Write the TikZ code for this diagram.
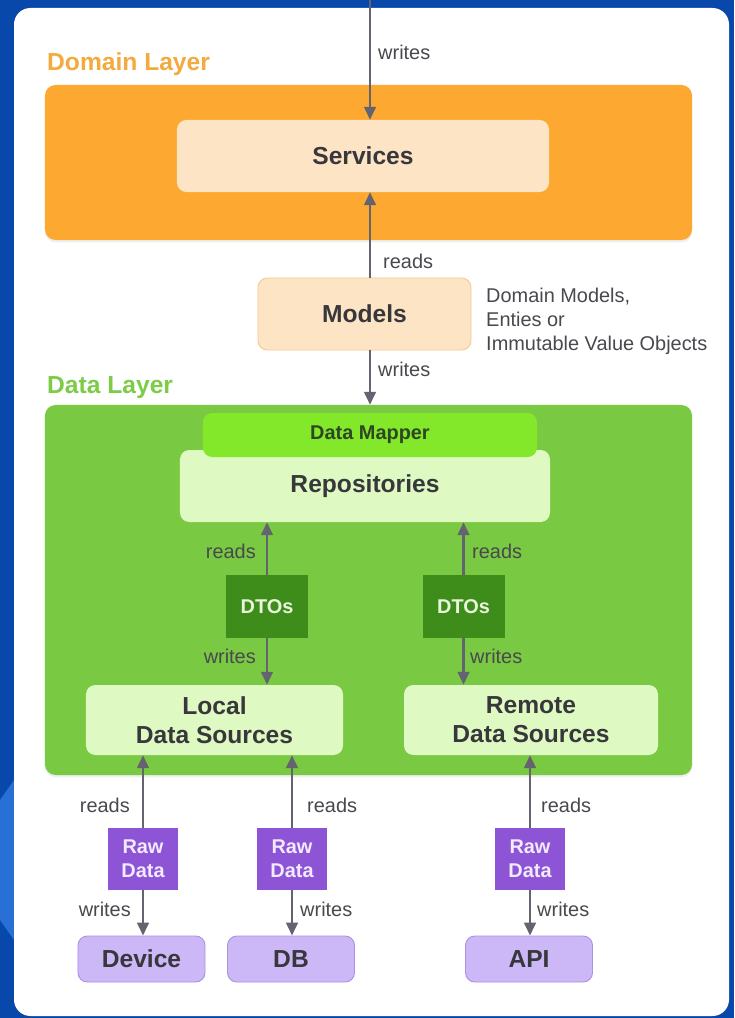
\documentclass[tikz,border=0pt]{standalone}
\usepackage{fontspec}
\setmainfont{Liberation Sans}
\usetikzlibrary{positioning,calc,arrows.meta,shadows}

\definecolor{bgblue}{RGB}{8,72,170}
\definecolor{bgblue2}{RGB}{40,112,214}
\definecolor{domorange}{RGB}{253,168,48}
\definecolor{domtitle}{RGB}{243,170,62}
\definecolor{peach}{RGB}{253,228,196}
\definecolor{peachline}{RGB}{244,204,150}
\definecolor{datagreen}{RGB}{122,201,67}
\definecolor{datatitle}{RGB}{124,204,72}
\definecolor{mapgreen}{RGB}{132,232,42}
\definecolor{palegreen}{RGB}{222,250,194}
\definecolor{dtogreen}{RGB}{62,140,26}
\definecolor{rawpurple}{RGB}{142,84,214}
\definecolor{lavender}{RGB}{204,184,246}
\definecolor{lavline}{RGB}{172,146,228}
\definecolor{txt}{RGB}{55,55,60}
\definecolor{lblgray}{RGB}{72,72,78}
\definecolor{arrgray}{RGB}{100,100,112}

\tikzset{
  layer/.style={fill=#1, rounded corners=9pt, inner sep=0pt,
    drop shadow={opacity=0.12, shadow xshift=0pt, shadow yshift=-2pt}},
  box/.style={fill=#1, rounded corners=8pt, text=txt, align=center,
    font=\fontsize{21}{25}\selectfont\bfseries, inner sep=0pt},
  tag/.style={fill=#1, align=center, inner sep=0pt,
    font=\fontsize{17}{20.5}\selectfont\bfseries},
  lbl/.style={text=lblgray, font=\fontsize{17}{20}\selectfont, inner sep=0pt},
  title/.style={font=\fontsize{21}{25}\selectfont\bfseries, inner sep=0pt, anchor=west},
  arr/.style={draw=arrgray, line width=1.8pt, -{Triangle[length=11pt,width=10pt]}}
}

\begin{document}
\begin{tikzpicture}[x=0.03cm, y=-0.03cm]
    \useasboundingbox (0,0) rectangle (734,1018);

    % Background
    \fill[bgblue] (0,0) rectangle (734,1018);
    \fill[bgblue2] (0,800) -- (14,780) -- (14,940) -- (0,920) -- cycle;
    \fill[white, rounded corners=14pt] (14,8) rectangle (729,1016);

    % Domain layer
    \node[title, text=domtitle] (domtitle) at (47,64) {Domain Layer};
    \node[layer=domorange, minimum width=19.41cm, minimum height=4.65cm] (domain) at (368.5,162.5) {};
    \node[box=peach, minimum width=11.16cm, minimum height=2.16cm] (services) at (363,156) {Services};

    % Models
    \node[box=peach, draw=peachline, line width=0.8pt, minimum width=6.39cm, minimum height=2.16cm] (models) at (364.5,314) {Models};
    \node[lbl, anchor=north west, align=left, font=\fontsize{17}{20.5}\selectfont] (modelnote) at (486,288)
        {Domain Models,\\Enties or\\Immutable Value Objects};

    % Data layer
    \node[title, text=datatitle] (datatitle) at (47,388) {Data Layer};
    \node[layer=datagreen, minimum width=19.41cm, minimum height=11.1cm] (data) at (368.5,590) {};
    \node[box=palegreen, minimum width=11.1cm, minimum height=2.16cm] (repo) at (365,486) {Repositories};
    \node[tag=mapgreen, text={rgb,255:red,45;green,70;blue,35}, rounded corners=8pt,
        minimum width=10.02cm, minimum height=1.32cm] (mapper) at (370,435) {Data Mapper};

    % DTOs
    \node[tag=dtogreen, text={rgb,255:red,232;green,246;blue,222}, minimum width=2.46cm, minimum height=1.89cm] (dtoL) at (267,606.5) {DTOs};
    \node[tag=dtogreen, text={rgb,255:red,232;green,246;blue,222}, minimum width=2.46cm, minimum height=1.89cm] (dtoR) at (463.5,606.5) {DTOs};

    % Data sources
    \node[box=palegreen, minimum width=7.71cm, minimum height=2.1cm] (local) at (214.5,720) {Local\\Data Sources};
    \node[box=palegreen, minimum width=7.62cm, minimum height=2.1cm] (remote) at (531,720) {Remote\\Data Sources};

    % Raw data
    \foreach \n/\x in {rawL/143, rawM/292, rawR/530}
      \node[tag=rawpurple, text={rgb,255:red,242;green,234;blue,255}, minimum width=2.1cm, minimum height=1.86cm] (\n) at (\x,859) {Raw\\Data};

    % Sinks
    \node[box=lavender, draw=lavline, line width=0.8pt, minimum width=3.81cm, minimum height=1.38cm] (device) at (141.5,959) {Device};
    \node[box=lavender, draw=lavline, line width=0.8pt, minimum width=3.81cm, minimum height=1.38cm] (db) at (291,959) {DB};
    \node[box=lavender, draw=lavline, line width=0.8pt, minimum width=3.81cm, minimum height=1.38cm] (api) at (529,959) {API};

    % Arrows
    \coordinate (top) at (370,0);
    \draw[arr] (top) -- (top |- services.north);
    \draw[arr] (top |- models.north) -- (top |- services.south);
    \draw[arr] (top |- models.south) -- (top |- data.north);

    \draw[arr] (dtoL.north) -- (dtoL.north |- repo.south);
    \draw[arr] (dtoL.south) -- (dtoL.south |- local.north);
    \draw[arr] (dtoR.north) -- (dtoR.north |- repo.south);
    \draw[arr] (dtoR.south) -- (dtoR.south |- remote.north);

    \draw[arr] (rawL.north) -- (rawL.north |- local.south);
    \draw[arr] (rawM.north) -- (rawM.north |- local.south);
    \draw[arr] (rawR.north) -- (rawR.north |- remote.south);
    \draw[arr] (rawL.south) -- (rawL.south |- device.north);
    \draw[arr] (rawM.south) -- (rawM.south |- db.north);
    \draw[arr] (rawR.south) -- (rawR.south |- api.north);

    % Labels
    \node[lbl, anchor=west] (w1) at (378,52) {writes};
    \node[lbl, anchor=west] (r1) at (383,261) {reads};
    \node[lbl, anchor=west] (w2) at (378,369) {writes};
    \node[lbl, anchor=east] (r2) at (256,551) {reads};
    \node[lbl, anchor=east] (w3) at (256,656) {writes};
    \node[lbl, anchor=west] (r3) at (472,551) {reads};
    \node[lbl, anchor=west] (w4) at (470,656) {writes};
    \node[lbl, anchor=east] (r4) at (130,805) {reads};
    \node[lbl, anchor=west] (r5) at (307,805) {reads};
    \node[lbl, anchor=west] (r6) at (541,805) {reads};
    \node[lbl, anchor=east] (w5) at (131,909) {writes};
    \node[lbl, anchor=west] (w6) at (300,909) {writes};
    \node[lbl, anchor=west] (w7) at (537,909) {writes};
\end{tikzpicture}
\end{document}
